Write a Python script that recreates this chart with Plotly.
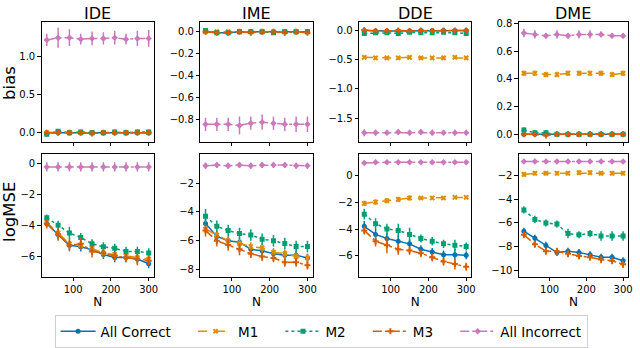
import plotly.graph_objects as go

N = [30, 60, 90, 120, 150, 180, 210, 240, 270, 300]
series_names = ["All Correct", "M1", "M2", "M3", "All Incorrect"]
panel_titles = ["IDE", "IME", "DDE", "DME"]

# bias (top row) values per panel, per series
bias = {
    "IDE": {
        "All Correct": [0.00, 0.00, 0.00, 0.00, 0.00, 0.00, 0.00, 0.00, 0.00, 0.00],
        "M1": [0.00, 0.01, 0.00, 0.00, 0.00, 0.00, 0.00, 0.00, 0.00, 0.00],
        "M2": [-0.02, 0.02, 0.00, 0.01, 0.00, 0.00, 0.01, 0.00, 0.01, 0.01],
        "M3": [0.00, 0.00, 0.00, 0.00, -0.01, 0.00, 0.00, 0.00, 0.00, 0.00],
        "All Incorrect": [1.21, 1.24, 1.24, 1.22, 1.23, 1.23, 1.24, 1.22, 1.23, 1.23],
    },
    "IME": {
        "All Correct": [0.00, -0.01, -0.01, 0.00, 0.00, 0.00, 0.00, 0.00, 0.00, 0.00],
        "M1": [0.00, 0.00, 0.00, 0.00, 0.00, 0.00, 0.00, 0.00, 0.00, 0.00],
        "M2": [0.01, -0.01, -0.01, 0.00, 0.00, 0.00, -0.01, 0.00, 0.00, 0.00],
        "M3": [0.00, -0.01, -0.01, 0.00, -0.01, 0.00, 0.00, -0.01, 0.00, -0.01],
        "All Incorrect": [-0.84, -0.84, -0.84, -0.85, -0.83, -0.82, -0.83, -0.84, -0.84, -0.84],
    },
    "DDE": {
        "All Correct": [0.00, -0.01, -0.01, -0.01, -0.01, 0.00, 0.00, 0.00, 0.00, 0.00],
        "M1": [-0.46, -0.47, -0.47, -0.47, -0.46, -0.47, -0.47, -0.47, -0.46, -0.47],
        "M2": [-0.05, -0.04, -0.04, -0.05, -0.03, -0.04, -0.04, -0.03, -0.04, -0.05],
        "M3": [0.01, -0.01, -0.01, 0.00, -0.01, 0.00, -0.01, 0.00, 0.00, 0.00],
        "All Incorrect": [-1.75, -1.75, -1.75, -1.74, -1.75, -1.74, -1.75, -1.75, -1.75, -1.75],
    },
    "DME": {
        "All Correct": [0.00, 0.00, 0.00, 0.00, 0.00, 0.00, 0.00, 0.00, 0.00, 0.00],
        "M1": [0.44, 0.44, 0.43, 0.43, 0.44, 0.44, 0.44, 0.44, 0.43, 0.44],
        "M2": [0.03, 0.01, 0.01, 0.00, 0.00, 0.00, 0.00, 0.00, 0.00, 0.00],
        "M3": [0.00, 0.00, -0.01, 0.00, 0.00, 0.00, 0.00, 0.00, 0.00, 0.00],
        "All Incorrect": [0.73, 0.72, 0.71, 0.72, 0.71, 0.72, 0.72, 0.72, 0.71, 0.71],
    },
}
bias_err = {
    "IDE": {"All Correct": [0.02]*10, "M1": [0.02]*10, "M2": [0.03]*10, "M3": [0.02]*10,
            "All Incorrect": [0.08, 0.13, 0.11, 0.07, 0.09, 0.08, 0.09, 0.07, 0.10, 0.11]},
    "IME": {"All Correct": [0.01]*10, "M1": [0.01]*10, "M2": [0.02]*10, "M3": [0.01]*10,
            "All Incorrect": [0.06, 0.06, 0.06, 0.08, 0.06, 0.07, 0.06, 0.06, 0.07, 0.07]},
    "DDE": {"All Correct": [0.02]*10, "M1": [0.03]*10, "M2": [0.03]*10, "M3": [0.02]*10,
            "All Incorrect": [0.06, 0.05, 0.04, 0.05, 0.05, 0.05, 0.05, 0.04, 0.05, 0.05]},
    "DME": {"All Correct": [0.01]*10, "M1": [0.02]*10, "M2": [0.02]*10, "M3": [0.01]*10,
            "All Incorrect": [0.03, 0.03, 0.02, 0.03, 0.02, 0.03, 0.03, 0.02, 0.02, 0.02]},
}

# logMSE (bottom row)
logmse = {
    "IDE": {
        "All Correct": [-3.9, -4.6, -5.3, -5.4, -5.6, -5.9, -6.1, -6.1, -6.2, -6.5],
        "M1": [-3.8, -4.5, -5.2, -5.3, -5.5, -5.8, -5.9, -6.0, -6.1, -6.2],
        "M2": [-3.5, -4.0, -4.5, -4.8, -5.2, -5.4, -5.5, -5.7, -5.7, -5.8],
        "M3": [-3.9, -4.6, -5.3, -5.2, -5.7, -5.8, -6.0, -6.1, -6.2, -6.3],
        "All Incorrect": [-0.2, -0.2, -0.2, -0.2, -0.2, -0.2, -0.2, -0.2, -0.2, -0.2],
    },
    "IME": {
        "All Correct": [-4.8, -5.7, -6.0, -6.1, -6.6, -6.7, -6.9, -7.0, -7.0, -7.2],
        "M1": [-5.2, -5.6, -6.0, -6.2, -6.4, -6.5, -6.8, -6.9, -7.1, -7.2],
        "M2": [-4.3, -5.0, -5.3, -5.5, -5.6, -5.9, -6.0, -6.2, -6.4, -6.4],
        "M3": [-5.3, -6.0, -6.3, -6.6, -6.9, -7.1, -7.2, -7.5, -7.5, -7.7],
        "All Incorrect": [-0.8, -0.75, -0.8, -0.75, -0.8, -0.75, -0.75, -0.75, -0.8, -0.8],
    },
    "DDE": {
        "All Correct": [-3.8, -4.4, -4.7, -4.9, -5.1, -5.5, -5.7, -5.9, -5.9, -5.95],
        "M1": [-2.1, -2.0, -1.9, -1.8, -1.7, -1.7, -1.7, -1.7, -1.65, -1.65],
        "M2": [-2.9, -3.6, -4.0, -4.1, -4.4, -4.7, -4.9, -5.1, -5.2, -5.3],
        "M3": [-4.1, -4.9, -5.2, -5.5, -5.6, -5.8, -6.1, -6.4, -6.6, -6.8],
        "All Incorrect": [0.9, 0.95, 0.95, 0.95, 0.95, 0.95, 0.95, 0.95, 0.95, 0.95],
    },
    "DME": {
        "All Correct": [-6.7, -7.3, -7.9, -8.5, -8.4, -8.5, -8.7, -8.9, -8.9, -9.2],
        "M1": [-1.9, -1.8, -1.8, -1.8, -1.8, -1.75, -1.75, -1.8, -1.8, -1.8],
        "M2": [-4.9, -5.7, -6.0, -6.1, -6.9, -7.0, -6.9, -7.1, -7.1, -7.1],
        "M3": [-7.0, -7.8, -8.4, -8.4, -8.6, -8.8, -8.9, -9.1, -9.2, -9.5],
        "All Incorrect": [-0.8, -0.8, -0.8, -0.8, -0.8, -0.8, -0.8, -0.8, -0.8, -0.8],
    },
}
logmse_err = {
    "IDE": {"All Correct": [0.2, 0.3, 0.3, 0.3, 0.3, 0.3, 0.3, 0.3, 0.3, 0.3],
            "M1": [0.2, 0.3, 0.3, 0.3, 0.3, 0.3, 0.3, 0.3, 0.3, 0.3],
            "M2": [0.2, 0.3, 0.4, 0.3, 0.3, 0.3, 0.3, 0.3, 0.3, 0.3],
            "M3": [0.3, 0.4, 0.4, 0.4, 0.4, 0.3, 0.3, 0.3, 0.4, 0.3],
            "All Incorrect": [0.3, 0.3, 0.3, 0.3, 0.3, 0.3, 0.3, 0.3, 0.3, 0.3]},
    "IME": {"All Correct": [0.3, 0.3, 0.3, 0.3, 0.3, 0.3, 0.3, 0.3, 0.3, 0.3],
            "M1": [0.3, 0.3, 0.3, 0.3, 0.3, 0.3, 0.3, 0.3, 0.3, 0.3],
            "M2": [0.5, 0.4, 0.4, 0.4, 0.4, 0.4, 0.4, 0.4, 0.4, 0.4],
            "M3": [0.4, 0.4, 0.4, 0.4, 0.3, 0.3, 0.3, 0.3, 0.3, 0.3],
            "All Incorrect": [0.2, 0.2, 0.2, 0.2, 0.2, 0.2, 0.2, 0.2, 0.2, 0.2]},
    "DDE": {"All Correct": [0.4, 0.4, 0.4, 0.4, 0.3, 0.3, 0.3, 0.3, 0.4, 0.3],
            "M1": [0.2, 0.2, 0.2, 0.2, 0.2, 0.1, 0.1, 0.1, 0.1, 0.1],
            "M2": [0.4, 0.4, 0.4, 0.5, 0.5, 0.3, 0.3, 0.3, 0.4, 0.3],
            "M3": [0.3, 0.4, 0.6, 0.4, 0.3, 0.3, 0.3, 0.3, 0.4, 0.3],
            "All Incorrect": [0.1]*10},
    "DME": {"All Correct": [0.3, 0.3, 0.3, 0.3, 0.3, 0.3, 0.3, 0.3, 0.3, 0.3],
            "M1": [0.2]*10,
            "M2": [0.3, 0.3, 0.3, 0.3, 0.4, 0.3, 0.3, 0.4, 0.4, 0.4],
            "M3": [0.3, 0.3, 0.3, 0.3, 0.3, 0.3, 0.3, 0.3, 0.3, 0.3],
            "All Incorrect": [0.1]*10},
}

colors = {"All Correct": "#0173b2", "M1": "#de8f05", "M2": "#029e73",
          "M3": "#d55e00", "All Incorrect": "#cc78bc"}
dashes = {"All Correct": "solid", "M1": "dash", "M2": "dot",
          "M3": "dashdot", "All Incorrect": "dashdot"}
symbols = {"All Correct": "circle", "M1": "x", "M2": "square",
           "M3": "cross", "All Incorrect": "diamond"}

x_dom = [(42, 155), (202, 315), (362, 475), (523, 633)]
y_dom_px = [(18, 142.3), (155, 282.3)]
W, H = 640, 348

top_ranges = {"IDE": [-0.12, 1.44], "IME": [-1.0, 0.085], "DDE": [-1.91, 0.14], "DME": [-0.056, 0.807]}
bot_ranges = {"IDE": [-7.35, 0.63], "IME": [-8.5, 0.0], "DDE": [-7.54, 1.55], "DME": [-10.55, -0.19]}
top_ticks = {"IDE": [0, 0.5, 1.0], "IME": [0, -0.2, -0.4, -0.6, -0.8],
             "DDE": [0, -0.5, -1.0, -1.5], "DME": [0, 0.2, 0.4, 0.6, 0.8]}
top_ticktext = {"IDE": ["0.0", "0.5", "1.0"], "IME": ["0.0", "−0.2", "−0.4", "−0.6", "−0.8"],
                "DDE": ["0.0", "−0.5", "−1.0", "−1.5"], "DME": ["0.0", "0.2", "0.4", "0.6", "0.8"]}
bot_ticks = {"IDE": [0, -2, -4, -6], "IME": [-2, -4, -6, -8], "DDE": [0, -2, -4, -6],
             "DME": [-2, -4, -6, -8, -10]}

# legend label padding (visual spacing only)
pad = "\u00a0" * 4
legend_labels = {s: (s + pad if s != "All Incorrect" else s) for s in series_names}

fig = go.Figure()
layout = {}
font = "DejaVu Sans"
ax_i = 0
for row in range(2):
    for col, p in enumerate(panel_titles):
        ax_i += 1
        xa = "xaxis" if ax_i == 1 else f"xaxis{ax_i}"
        ya = "yaxis" if ax_i == 1 else f"yaxis{ax_i}"
        xr = "x" if ax_i == 1 else f"x{ax_i}"
        yr = "y" if ax_i == 1 else f"y{ax_i}"
        data = bias[p] if row == 0 else logmse[p]
        errs = bias_err[p] if row == 0 else logmse_err[p]
        for s in series_names:
            fig.add_trace(go.Scatter(
                x=N, y=data[s], xaxis=xr, yaxis=yr, name=legend_labels[s],
                mode="lines+markers",
                line=dict(color=colors[s], dash=dashes[s], width=1.5),
                marker=dict(symbol=symbols[s], size=5, color=colors[s],
                            line=dict(width=0)),
                error_y=dict(type="data", array=errs[s], color=colors[s],
                             thickness=1.5, width=0),
                showlegend=(ax_i == 1),
            ))
        y0, y1 = y_dom_px[row]
        x0, x1 = x_dom[col]
        layout[xa] = dict(domain=[x0 / W, x1 / W], range=[16.5, 313.5],
                          tickvals=[100, 200, 300], showticklabels=(row == 1),
                          ticks="outside", ticklen=3.5, tickcolor="black",
                          showline=True, linecolor="black", linewidth=1, mirror=True,
                          showgrid=False, zeroline=False, anchor=yr,
                          tickfont=dict(size=10, color="black", family=font))
        if row == 0:
            tv, tt = top_ticks[p], top_ticktext[p]
            rng = top_ranges[p]
        else:
            tv = bot_ticks[p]
            tt = [str(v).replace("-", "−") for v in tv]
            rng = bot_ranges[p]
        layout[ya] = dict(domain=[1 - y1 / H, 1 - y0 / H], range=rng,
                          tickvals=tv, ticktext=tt,
                          ticks="outside", ticklen=3.5, tickcolor="black",
                          showline=True, linecolor="black", linewidth=1, mirror=True,
                          showgrid=False, zeroline=False, anchor=xr,
                          tickfont=dict(size=10, color="black", family=font))
        if row == 1:
            layout[xa]["title"] = dict(text="N", font=dict(size=12, family=font, color="black"),
                                       standoff=2)

annotations = []
for col, p in enumerate(panel_titles):
    x0, x1 = x_dom[col]
    annotations.append(dict(text=p, x=(x0 + x1) / 2 / W, y=1 - 9 / H, xref="paper", yref="paper",
                            showarrow=False, font=dict(size=16, family=font, color="black"),
                            xanchor="center", yanchor="middle"))
annotations.append(dict(text="bias", x=10 / W, y=1 - 81 / H, xref="paper", yref="paper",
                        textangle=-90, showarrow=False, xanchor="center", yanchor="middle",
                        font=dict(size=16.5, family=font, color="black")))
annotations.append(dict(text="logMSE", x=10 / W, y=1 - 215 / H, xref="paper", yref="paper",
                        textangle=-90, showarrow=False, xanchor="center", yanchor="middle",
                        font=dict(size=16.5, family=font, color="black")))

fig.update_layout(
    width=W, height=H, margin=dict(l=0, r=0, t=0, b=0),
    paper_bgcolor="white", plot_bgcolor="white",
    annotations=annotations,
    legend=dict(orientation="h", x=55 / W, xanchor="left", y=1 - 322 / H, yanchor="top",
                bordercolor="#d0d0d0", borderwidth=1,
                font=dict(size=13.5, family=font, color="black"),
                itemwidth=35, tracegroupgap=0),
    **layout,
)
fig.write_html("out.html", config={"displayModeBar": False},
               post_script="document.body.style.margin='0';document.body.style.overflow='hidden';")
